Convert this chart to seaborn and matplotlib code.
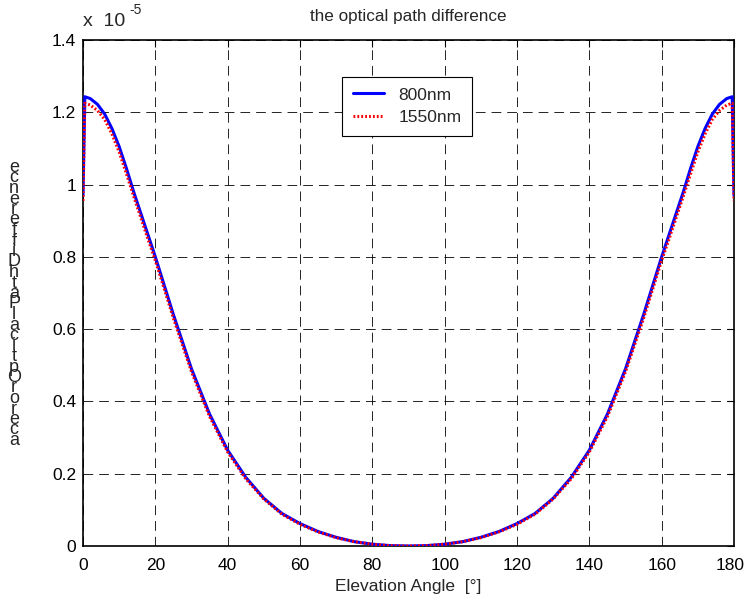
import matplotlib
matplotlib.use("Agg")
import matplotlib.pyplot as plt
import matplotlib.transforms as mtransforms
import seaborn as sns
import pandas as pd

# Elevation angle in degrees
angles = [0, 0.5, 2, 4, 6, 8, 10, 12, 14, 16, 18, 20, 25, 30, 35, 40, 45, 50, 55,
          60, 65, 70, 75, 80, 85, 90, 95, 100, 105, 110, 115, 120, 125, 130, 135,
          140, 145, 150, 155, 160, 162, 164, 166, 168, 170, 172, 174, 176, 178,
          179.5, 180]

# Optical path difference, in units of 1e-5
opd_800 = [0.97, 1.243, 1.238, 1.222, 1.195, 1.155, 1.105, 1.045, 0.98, 0.92, 0.86,
           0.80, 0.64, 0.49, 0.365, 0.265, 0.19, 0.132, 0.09, 0.062, 0.04, 0.024,
           0.012, 0.005, 0.001, 0.0, 0.001, 0.005, 0.012, 0.024, 0.04, 0.062, 0.09,
           0.132, 0.19, 0.265, 0.365, 0.49, 0.64, 0.80, 0.86, 0.92, 0.98, 1.045,
           1.105, 1.155, 1.195, 1.222, 1.238, 1.243, 0.97]
opd_1550 = [0.955, 1.225, 1.22, 1.205, 1.18, 1.14, 1.09, 1.03, 0.968, 0.908, 0.848,
            0.79, 0.63, 0.482, 0.358, 0.26, 0.186, 0.13, 0.088, 0.06, 0.039, 0.023,
            0.012, 0.005, 0.001, 0.0, 0.001, 0.005, 0.012, 0.023, 0.039, 0.06, 0.088,
            0.13, 0.186, 0.26, 0.358, 0.482, 0.63, 0.79, 0.848, 0.908, 0.968, 1.03,
            1.09, 1.14, 1.18, 1.205, 1.22, 1.225, 0.955]

x_ticks = [0, 20, 40, 60, 80, 100, 120, 140, 160, 180]
y_ticks = [0, 0.2, 0.4, 0.6, 0.8, 1.0, 1.2, 1.4]
y_tick_labels = ["0", "0.2", "0.4", "0.6", "0.8", "1", "1.2", "1.4"]
ylabel_chars = list("ecnereffiDhtaPlacitpOroreca")

sns.set_theme(style="white")
plt.rcParams["font.family"] = ["Liberation Sans", "DejaVu Sans"]
plt.rcParams["lines.scale_dashes"] = False

df = pd.DataFrame({"angle": angles, "opd800": opd_800, "opd1550": opd_1550})

fig = plt.figure(figsize=(7.44, 6.0), dpi=100)
ax = fig.add_axes([83 / 744, 1 - 546 / 600, (734 - 83) / 744, (546 - 40) / 600])

sns.lineplot(data=df, x="angle", y="opd800", ax=ax, color="#0000ff", lw=2.2,
             sort=False, label="800nm", zorder=3)
sns.lineplot(data=df, x="angle", y="opd1550", ax=ax, color="#ff0000", lw=2.2,
             sort=False, label="1550nm", zorder=4, linestyle=(0, (1.3, 1.5)))

ax.set_xlim(0, 180)
ax.set_ylim(0, 1.4)
ax.set_xticks(x_ticks)
ax.set_xticklabels([str(t) for t in x_ticks])
ax.set_yticks(y_ticks)
ax.set_yticklabels(y_tick_labels)
ax.tick_params(direction="in", length=5, width=0.8, labelsize=12.5,
               top=True, right=True, colors="black")
ax.tick_params(axis="x", pad=9)
ax.tick_params(axis="y", pad=5)
ax.grid(True, color="black", linestyle=(0, (7, 4.3)), linewidth=0.6)
for s in ax.spines.values():
    s.set_color("black")
    s.set_linewidth(1.2)

# keep the last x tick label inside the canvas
last = ax.get_xticklabels()[-1]
last.set_transform(last.get_transform() +
                   mtransforms.ScaledTranslation(-4 / 100, 0, fig.dpi_scale_trans))

ax.set_xlabel("Elevation Angle  [°]", fontsize=12.5, labelpad=4)
ax.set_ylabel("")
ax.set_title("the optical path difference", fontsize=12.3, pad=14)

# exponent marker above the y axis
fig.text(83 / 744, 1 - 26 / 600, "x  10", fontsize=14, ha="left", va="baseline")
fig.text(129 / 744, 1 - 14 / 600, "-5", fontsize=10, ha="left", va="baseline")

# stacked y-axis label
fig.text(14 / 744, 1 - 304 / 600, "\n".join(ylabel_chars), fontsize=13,
         ha="center", va="center", linespacing=0.5)

leg = ax.legend(loc="upper left", bbox_to_anchor=(0.398, 0.927), fontsize=12.5,
                frameon=True, fancybox=False, edgecolor="black", framealpha=1,
                handlelength=1.8, borderpad=0.6, labelspacing=0.45,
                handletextpad=0.85, borderaxespad=0)
leg.get_frame().set_linewidth(0.8)

fig.savefig("out.png", dpi=100)
